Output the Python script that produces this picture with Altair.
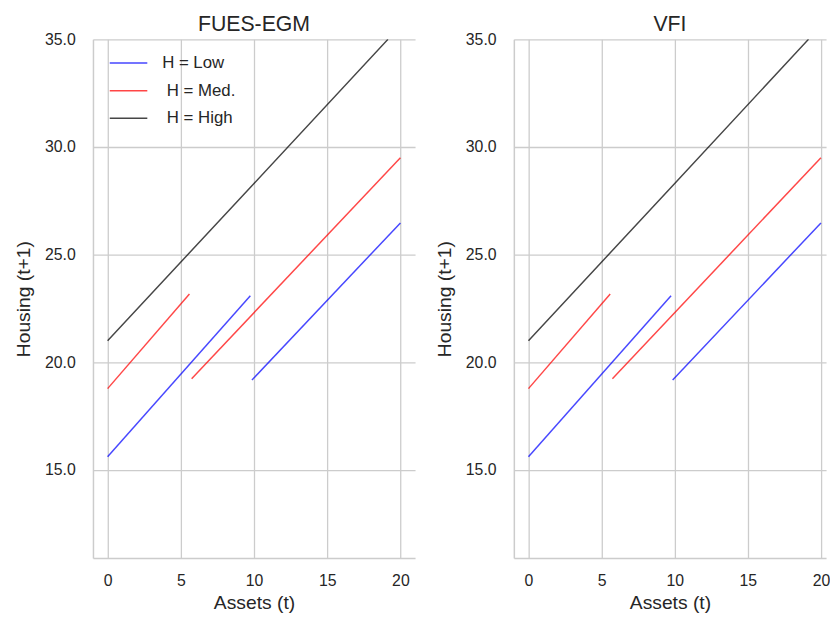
import altair as alt
import pandas as pd

# ---- data ----
series_labels = ["H = Low", "\u200b\u00a0H = Med.", "\u200b\u00a0H = High"]
series_colors = ["#0000ff", "#ff0000", "#000000"]

x_ticks = [0, 5, 10, 15, 20]
y_ticks = [15, 20, 25, 30, 35]

# H = Low (two branches)
low_a_x = [0.0, 9.75]
low_a_y = [15.6, 23.09]
low_b_x = [9.86, 20.0]
low_b_y = [19.17, 26.47]
# H = Med. (two branches)
med_a_x = [0.0, 5.59]
med_a_y = [18.77, 23.17]
med_b_x = [5.74, 20.0]
med_b_y = [19.23, 29.5]
# H = High
high_x = [0.0, 10.0, 19.15]
high_y = [21.0, 28.3, 35.0]

panel_titles = ["FUES-EGM", "VFI"]


def build_frame():
    rows = []
    segs = [
        (series_labels[0], "low_a", low_a_x, low_a_y),
        (series_labels[0], "low_b", low_b_x, low_b_y),
        (series_labels[1], "med_a", med_a_x, med_a_y),
        (series_labels[1], "med_b", med_b_x, med_b_y),
        (series_labels[2], "high", high_x, high_y),
    ]
    for label, seg, xs, ys in segs:
        for i, (xv, yv) in enumerate(zip(xs, ys)):
            rows.append({"series": label, "seg": seg, "idx": i, "x": xv, "y": yv})
    return pd.DataFrame(rows)


FONT = "Liberation Sans"
TEXT = "#262626"
GRID = "#cccccc"


def panel(which, show_legend, width, xmax):
    df = build_frame()
    if show_legend:
        color = alt.Color(
            "series:N",
            scale=alt.Scale(domain=series_labels, range=series_colors),
            sort=series_labels,
            legend=alt.Legend(
                title=None,
                orient="none",
                legendX=16,
                legendY=4,
                padding=0,
                symbolType="stroke",
                symbolSize=1444,
                symbolStrokeWidth=1.5,
                symbolOpacity=0.72,
                labelFontSize=17,
                labelFont=FONT,
                labelColor=TEXT,
                labelOffset=14,
                rowPadding=-6,
            ),
        )
    else:
        color = alt.Color(
            "series:N",
            scale=alt.Scale(domain=series_labels, range=series_colors),
            legend=None,
        )
    return (
        alt.Chart(df)
        .mark_line(strokeWidth=1.5, opacity=0.72, clip=True)
        .encode(
            x=alt.X(
                "x:Q",
                scale=alt.Scale(domain=[-1, xmax], nice=False, zero=False),
                axis=alt.Axis(title="Assets (t)", values=x_ticks),
            ),
            y=alt.Y(
                "y:Q",
                scale=alt.Scale(domain=[10.9, 35], nice=False, zero=False),
                axis=alt.Axis(title="Housing (t+1)", values=y_ticks, format=".1f"),
            ),
            color=color,
            detail="seg:N",
            order="idx:Q",
        )
        .properties(width=width, height=525, title=panel_titles[which])
    )


left = panel(0, True, 326, 21)
right = panel(1, False, 316, 20.35)

chart = (
    alt.hconcat(left, right, spacing=19)
    .resolve_scale(color="independent")
    .properties(padding={"left": 5, "top": 2, "right": 0, "bottom": 0})
    .configure_view(stroke=None)
    .configure_axis(
        domainColor=GRID,
        domainWidth=1.5,
        gridColor=GRID,
        gridWidth=1.3,
        ticks=False,
        labelFont=FONT,
        labelFontSize=16,
        labelColor=TEXT,
        titleFont=FONT,
        titleFontSize=19.5,
        titleFontWeight="normal",
        titleColor=TEXT,
    )
    .configure_axisY(labelPadding=18, titlePadding=11)
    .configure_axisX(labelPadding=15, titlePadding=5)
    .configure_title(font=FONT, fontSize=21.5, fontWeight="normal", color=TEXT, offset=-4)
)

chart.save("out.html", embed_options={"renderer": "svg", "actions": False})
